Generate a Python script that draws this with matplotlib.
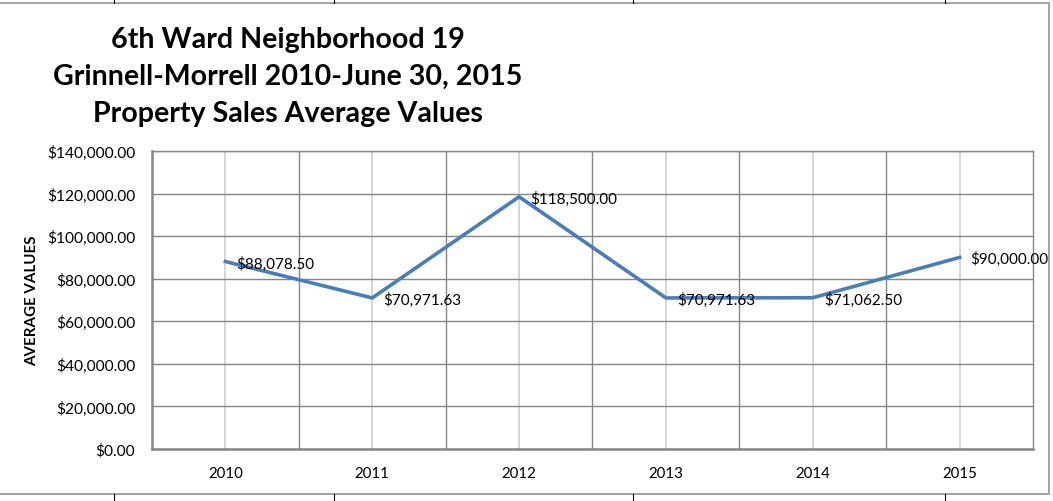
import numpy as np
import matplotlib.pyplot as plt
from matplotlib.lines import Line2D
from matplotlib.ticker import FuncFormatter, FixedLocator

YEARS = ["2010", "2011", "2012", "2013", "2014", "2015"]
AVG_VALUES = [88078.50, 70971.63, 118500.00, 70971.63, 71062.50, 90000.00]
Y_TICKS = [0, 20000, 40000, 60000, 80000, 100000, 120000, 140000]

TITLE = "6th Ward Neighborhood 19\nGrinnell-Morrell 2010-June 30, 2015\nProperty Sales Average Values"

plt.rcParams['font.family'] = ['Lato', 'DejaVu Sans']

fig = plt.figure(figsize=(10.53, 5.02), dpi=100)
W, H = 1053, 502
ax = fig.add_axes([152 / W, 1 - 450 / H, (1033 - 152) / W, (450 - 152) / H])

x = np.arange(len(YEARS))
ax.plot(x, AVG_VALUES, color="#4A7EBB", linewidth=2.6, solid_joinstyle="miter", zorder=3)

for xi, v in zip(x, AVG_VALUES):
    ax.annotate("${:,.2f}".format(v), (xi, v), xytext=(8, -1), textcoords="offset points",
                ha="left", va="center", fontsize=11, color="black", zorder=4)

ax.set_xlim(-0.5, len(YEARS) - 0.5)
ax.set_ylim(0, 140000)
ax.yaxis.set_major_locator(FixedLocator(Y_TICKS))
ax.yaxis.set_major_formatter(FuncFormatter(lambda v, p: "${:,.2f}".format(v)))

# category boundaries = dark grid, category centres = light grid
ax.xaxis.set_major_locator(FixedLocator(np.arange(0.5, len(YEARS) - 0.5, 1)))
ax.xaxis.set_minor_locator(FixedLocator(x))
ax.set_xticklabels([])
ax.set_xticklabels(YEARS, minor=True)
ax.tick_params(axis="x", which="both", length=0, labelsize=10.8, pad=12)
ax.tick_params(axis="y", length=0, labelsize=11.2, pad=12)

ax.grid(axis="y", color="#868686", linewidth=1)
ax.grid(axis="x", which="major", color="#868686", linewidth=1)
ax.grid(axis="x", which="minor", color="#d0d0d0", linewidth=1.2)
ax.set_axisbelow(True)

for s in ["top", "right"]:
    ax.spines[s].set_color("#868686")
    ax.spines[s].set_linewidth(1)
for s in ["left", "bottom"]:
    ax.spines[s].set_color("#868686")
    ax.spines[s].set_linewidth(1.8)

ax.set_ylabel("AVERAGE VALUES", fontsize=10.9, fontweight="bold")
ax.yaxis.set_label_coords(-113 / (1033 - 152), 0.5)

fig.text(288 / W, 1 - 77 / H, TITLE, ha="center", va="center", fontsize=20.6,
         fontweight="bold", linespacing=1.52)

# chart frame and sheet cell borders
fig.add_artist(Line2D([0, 1049 / W, 1049 / W, 0], [1 - 4 / H, 1 - 4 / H, 1 - 495 / H, 1 - 495 / H],
                      transform=fig.transFigure, color="#a6a6a6", linewidth=1.5))
for cx in [114, 334, 633, 945]:
    fig.add_artist(Line2D([cx / W, cx / W], [1, 1 - 4 / H], transform=fig.transFigure,
                          color="black", linewidth=0.8))
    fig.add_artist(Line2D([cx / W, cx / W], [0, 1 - 495 / H], transform=fig.transFigure,
                          color="black", linewidth=0.8))

fig.savefig("out.png", dpi=100)
